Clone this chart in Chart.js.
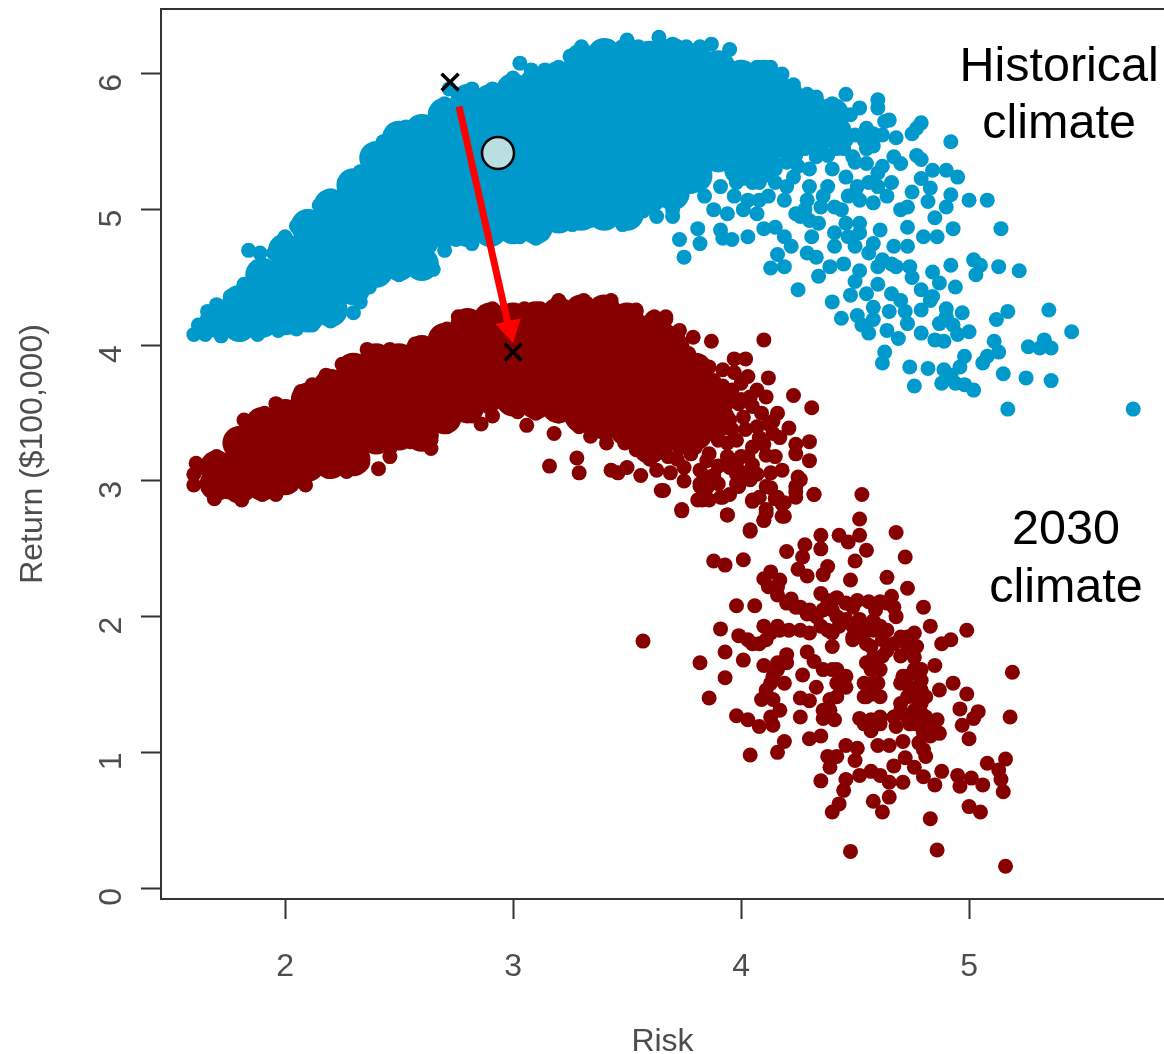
<!DOCTYPE html>
<html><head><meta charset="utf-8">
<style>html,body{margin:0;padding:0;background:#fff}canvas{display:block}</style>
<script src="https://cdn.jsdelivr.net/npm/chart.js@4"></script>
</head><body><canvas id="c" width="1164" height="1054"></canvas>
<script>
const xTicks=[2,3,4,5];
const yTicks=[0,1,2,3,4,5,6];
const xTitle='Risk';
const yTitle='Return ($100,000)';
// solid mass of the historical cloud: [risk,[returns]]
const historicalMass=[[1.7,[4.18]],[1.8,[4.15,4.32]],[1.9,[4.18,4.35,4.52]],[2.0,[4.2,4.37,4.54,4.7]],[2.1,[4.22,4.39,4.56,4.73,4.88]],[2.2,[4.26,4.43,4.6,4.77,4.94,5.03]],[2.3,[4.42,4.59,4.76,4.93,5.1,5.18]],[2.4,[4.55,4.72,4.89,5.06,5.23,5.38]],[2.5,[4.6,4.77,4.94,5.11,5.28,5.45,5.53]],[2.6,[4.6,4.77,4.94,5.11,5.28,5.45,5.58]],[2.7,[4.85,5.02,5.19,5.36,5.53,5.7]],[2.8,[4.85,5.02,5.19,5.36,5.53,5.7,5.8]],[2.9,[4.85,5.02,5.19,5.36,5.53,5.7,5.8]],[3.0,[4.87,5.04,5.21,5.38,5.55,5.72,5.88]],[3.1,[4.87,5.04,5.21,5.38,5.55,5.72,5.92]],[3.2,[4.95,5.12,5.29,5.46,5.63,5.8,5.97]],[3.3,[4.97,5.14,5.31,5.48,5.65,5.82,5.99,6.1]],[3.4,[4.97,5.14,5.31,5.48,5.65,5.82,5.99,6.14]],[3.5,[4.97,5.14,5.31,5.48,5.65,5.82,5.99,6.14]],[3.6,[5.1,5.27,5.44,5.61,5.78,5.95,6.12]],[3.7,[5.12,5.29,5.46,5.63,5.8,5.97,6.14]],[3.8,[5.25,5.42,5.59,5.76,5.93,6.1]],[3.9,[5.4,5.57,5.74,5.91,6.05]],[4.0,[5.3,5.47,5.64,5.81,5.98]],[4.1,[5.35,5.52,5.69,5.86,5.98]],[4.2,[5.5,5.67,5.84]],[4.3,[5.55,5.7]],[4.4,[5.6,5.7]]];
const historicalEdge=[[1.6,4.08],[1.62,4.15],[1.66,4.25],[1.7,4.3],[1.76,4.36],[1.82,4.45],[1.87,4.55],[1.84,4.7],[1.89,4.68],[1.95,4.68],[2.0,4.8],[2.05,4.88],[2.1,4.95],[2.15,5.03],[2.2,5.1],[2.26,5.2],[2.33,5.28],[2.39,5.41],[2.43,5.5],[2.47,5.57],[2.53,5.61],[2.6,5.64],[2.66,5.67],[2.7,5.78],[2.72,5.89],[2.76,5.82],[2.82,5.89],[2.86,5.82],[2.91,5.89],[2.96,5.85],[3.0,5.97],[3.03,6.08],[3.08,6.03],[3.14,6.03],[3.2,6.05],[3.25,6.13],[3.3,6.2],[3.36,6.16],[3.42,6.2],[3.5,6.25],[3.55,6.2],[3.64,6.27],[3.7,6.22],[3.76,6.2],[3.82,6.2],[3.87,6.22],[3.95,6.18],[4.0,6.05],[4.07,6.05],[4.13,6.05],[4.18,6.0],[4.23,5.92],[4.29,5.85],[4.34,5.78],[4.4,5.76],[1.65,4.08],[1.72,4.07],[1.8,4.08],[1.88,4.08],[1.97,4.11],[2.05,4.12],[2.12,4.15],[2.2,4.18],[2.3,4.24],[2.33,4.32],[2.37,4.43],[2.42,4.5],[2.5,4.52],[2.58,4.55],[2.65,4.56],[2.7,4.7],[2.68,4.78],[2.75,4.78],[2.82,4.75],[2.9,4.8],[2.97,4.83],[3.03,4.8],[3.1,4.79],[3.13,4.88],[3.2,4.92],[3.26,4.89],[3.34,4.92],[3.41,4.95],[3.48,4.89],[3.57,4.99],[3.63,4.95],[3.7,5.0]];
const historicalScatter=[[4.92,5.5],[5.08,5.07],[5.0,5.07],[5.14,4.86],[5.13,4.58],[5.22,4.55],[5.35,4.26],[5.45,4.1],[5.17,4.25],[5.12,4.19],[5.26,3.99],[5.33,4.04],[5.36,3.98],[5.31,3.98],[5.36,3.74],[5.25,3.76],[5.15,3.79],[5.17,3.53],[5.72,3.53],[5.11,4.03],[5.13,3.95],[5.08,3.92],[5.06,3.87],[4.98,3.92],[4.96,3.84],[4.89,3.82],[4.88,3.72],[4.94,3.72],[4.98,3.71],[5.02,3.67],[4.92,3.78],[4.82,3.83],[4.74,3.84],[4.76,3.7],[4.63,3.95],[4.62,3.87],[4.85,4.04],[4.89,4.03],[5.0,4.1],[4.95,4.08],[4.97,4.24],[4.93,4.15],[4.9,4.21],[4.87,4.16],[4.9,4.27],[4.84,4.36],[4.79,4.26],[4.73,4.16],[4.79,4.09],[4.69,4.05],[4.64,4.11],[4.56,4.09],[4.58,4.19],[4.51,4.22],[4.44,4.2],[4.4,4.32],[4.25,4.41],[4.13,4.57],[4.19,4.58],[4.16,4.67],[4.22,4.73],[4.19,4.8],[4.15,4.87],[4.1,4.86],[4.29,4.68],[4.33,4.65],[4.31,4.8],[4.34,4.51],[4.39,4.58],[4.45,4.6],[4.52,4.55],[4.6,4.58],[4.55,4.38],[4.58,4.28],[4.48,4.37],[4.68,4.58],[4.74,4.58],[4.79,4.41],[4.7,4.33],[4.83,4.33],[4.62,4.63],[4.67,4.73],[4.73,4.73],[4.8,4.8],[4.86,4.8],[4.93,4.86],[4.61,4.85],[4.58,4.75],[4.52,4.83],[4.5,4.73],[4.41,4.83],[4.41,4.73],[4.84,4.54],[4.92,4.59],[5.02,4.63],[5.05,4.59],[5.03,4.52],[4.94,4.43],[4.87,4.46],[4.26,4.95],[4.3,4.92],[4.24,4.97],[4.19,5.07],[4.08,5.07],[4.07,4.97],[4.01,5.0],[3.94,4.97],[3.91,4.85],[3.96,4.78],[4.03,4.8],[3.92,4.79],[3.82,4.75],[3.75,4.65],[3.73,4.78],[3.81,4.86],[3.7,4.95],[3.78,5.17],[3.84,5.1],[3.88,5.0],[3.91,5.17],[3.97,5.1],[4.03,5.07],[4.41,5.02],[4.44,5.0],[4.52,5.07],[4.51,5.17],[4.52,4.9],[4.58,5.05],[4.6,5.17],[4.64,5.1],[4.7,5.0],[4.73,5.02],[4.73,4.87],[4.75,5.13],[4.82,5.06],[4.83,5.16],[4.79,5.23],[4.9,5.02],[4.92,5.11],[4.85,4.94],[4.84,5.29],[4.9,5.29],[4.95,5.24],[4.77,5.4],[4.79,5.37],[4.67,5.39],[4.7,5.34],[4.68,5.53],[4.77,5.6],[4.75,5.56],[4.79,5.64],[4.65,5.66],[4.6,5.81],[4.6,5.75],[4.46,5.85],[4.52,5.75],[4.58,5.56],[4.55,5.6],[4.58,5.47],[4.54,5.51],[4.63,5.65],[4.6,5.27],[4.55,5.34],[4.49,5.39],[4.46,5.24],[4.33,5.83],[4.4,5.78],[4.35,5.68],[4.43,5.64],[4.38,5.51],[4.46,5.51],[4.33,5.39],[4.3,5.17],[4.38,5.17],[4.23,5.24],[4.29,5.07],[4.35,5.02],[4.08,5.2],[4.15,5.2],[4.3,5.3],[4.4,5.3],[4.24,5.4],[4.48,5.7],[3.98,5.2],[4.12,5.1],[4.45,5.6],[4.45,5.45],[4.5,5.55],[4.38,5.4],[4.42,5.45],[4.5,5.35],[4.55,5.45],[4.62,5.55],[4.35,5.45],[4.28,5.45],[4.2,5.35],[4.25,5.32],[4.1,5.25],[4.05,5.2],[4.2,5.17],[4.15,5.3],[4.5,5.12],[4.47,5.1],[4.56,5.2],[4.62,5.32],[4.66,5.2],[4.36,5.1],[4.28,5.0],[4.34,4.9],[4.46,4.9],[4.47,4.8],[4.56,4.68],[4.66,4.6],[4.5,4.47],[4.6,4.45],[4.66,4.38],[4.75,4.5],[4.72,4.25],[4.65,4.25],[4.53,4.15]];
// solid mass of the 2030 cloud: [risk,[returns]]
const futureMass=[[1.7,[2.98,3.1]],[1.8,[2.96,3.13,3.28]],[1.9,[2.98,3.15,3.32,3.42]],[2.0,[3.02,3.19,3.36,3.48]],[2.1,[3.12,3.29,3.46,3.6]],[2.2,[3.14,3.31,3.48,3.65,3.7]],[2.3,[3.16,3.33,3.5,3.67,3.82]],[2.4,[3.32,3.49,3.66,3.83,3.89]],[2.5,[3.35,3.52,3.69,3.86,3.89]],[2.6,[3.34,3.51,3.68,3.85,3.95]],[2.7,[3.47,3.64,3.81,3.98,4.04]],[2.8,[3.55,3.72,3.89,4.06,4.15]],[2.9,[3.64,3.81,3.98,4.15,4.19]],[3.0,[3.6,3.77,3.94,4.11,4.19]],[3.1,[3.58,3.75,3.92,4.09,4.2]],[3.2,[3.55,3.72,3.89,4.06,4.23]],[3.3,[3.48,3.65,3.82,3.99,4.16,4.25]],[3.4,[3.43,3.6,3.77,3.94,4.11,4.25]],[3.5,[3.38,3.55,3.72,3.89,4.06,4.19]],[3.6,[3.25,3.42,3.59,3.76,3.93,4.1]],[3.7,[3.35,3.52,3.69,3.86,3.98]],[3.8,[3.35,3.52,3.69,3.82]],[3.9,[3.45,3.6]]];
const futureEdge=[[1.61,3.13],[1.7,3.18],[1.78,3.3],[1.82,3.45],[1.91,3.5],[1.96,3.57],[2.06,3.6],[2.07,3.66],[2.12,3.71],[2.18,3.78],[2.25,3.86],[2.36,3.97],[2.46,3.97],[2.57,4.01],[2.71,4.12],[2.76,4.21],[2.91,4.27],[2.84,4.2],[3.05,4.27],[2.98,4.25],[3.12,4.27],[3.2,4.33],[3.31,4.33],[3.43,4.33],[3.54,4.25],[3.61,4.2],[3.67,4.19],[1.6,2.97],[1.6,3.05],[1.69,2.87],[1.81,2.86],[1.96,2.9],[2.09,2.97],[2.06,3.06],[2.19,3.07],[2.27,3.07],[2.34,3.13],[2.41,3.09],[2.46,3.18],[2.46,3.24],[2.55,3.29],[2.64,3.24],[2.71,3.4],[2.82,3.48],[2.86,3.42],[2.91,3.48],[2.89,3.55],[2.95,3.59],[3.02,3.51],[3.06,3.41],[3.1,3.5],[3.2,3.48],[3.18,3.35],[3.29,3.4],[3.34,3.33],[3.41,3.28],[3.49,3.28],[3.54,3.23],[1.75,2.92],[1.9,2.9],[2.03,3.0],[2.55,3.35],[2.64,3.3]];
const futureScatter=[[4.21,3.39],[4.14,3.35],[4.24,3.27],[4.3,3.29],[4.3,3.15],[4.24,3.2],[4.25,3.03],[4.24,2.96],[4.18,3.08],[4.15,3.18],[4.11,3.19],[4.13,3.06],[4.11,2.96],[4.15,2.87],[4.18,2.83],[4.24,2.88],[4.32,2.9],[4.11,2.79],[4.1,2.71],[4.18,2.74],[4.04,2.64],[3.94,2.75],[3.74,2.79],[3.65,2.93],[4.05,2.85],[3.92,2.88],[3.86,2.86],[3.81,2.86],[3.82,2.98],[3.9,2.98],[3.99,2.96],[4.01,3.06],[3.98,3.13],[3.9,3.11],[3.82,3.08],[3.75,3.1],[3.69,3.06],[3.63,3.08],[4.03,3.18],[3.94,3.18],[3.86,3.2],[4.05,3.25],[4.07,3.4],[3.96,3.38],[4.01,3.47],[4.09,3.5],[3.92,3.43],[4.11,3.62],[4.07,3.67],[4.03,3.77],[3.96,3.67],[3.88,3.74],[3.86,3.84],[3.92,3.82],[3.8,3.87],[3.77,3.94],[3.79,4.06],[3.73,4.11],[3.68,4.1],[3.62,4.21],[3.67,4.21],[3.54,4.26],[3.87,4.03],[4.1,4.04],[3.97,3.9],[4.02,3.9],[4.12,3.76],[4.23,3.63],[4.31,3.54],[4.05,3.55],[3.99,3.57],[3.9,3.57],[3.8,3.62],[3.8,3.45],[3.65,3.3],[3.73,3.25],[3.82,3.33],[3.94,3.28],[3.16,3.11],[3.28,3.17],[3.29,3.06],[3.43,3.08],[3.46,3.06],[3.56,3.04],[3.5,3.1],[3.6,3.16],[3.66,2.93],[3.74,2.78],[3.94,2.75],[4.04,2.63],[4.05,2.86],[4.32,2.9],[4.26,3.01],[4.24,2.92],[4.19,2.84],[4.19,2.74],[4.11,2.76],[4.1,2.71],[4.13,2.95],[4.16,2.88],[3.83,2.86],[3.91,2.88],[3.82,2.96],[3.98,2.98],[4.04,3.01],[3.86,3.03],[3.88,3.45],[3.72,3.16],[3.78,3.2],[3.98,3.3],[4.0,3.72],[4.04,3.62],[3.97,3.8],[4.16,3.5],[4.14,3.44],[4.08,3.32],[4.02,3.38],[3.85,3.55],[3.85,3.4],[3.9,3.3],[3.95,3.45],[4.0,3.6],[3.75,3.25],[3.8,3.25],[3.85,3.15],[3.95,3.1],[4.05,3.12],[4.1,3.27],[3.68,3.18],[4.0,3.18],[3.82,3.75],[3.92,3.7],[4.12,3.42],[4.17,3.32],[3.88,3.04],[3.98,3.05],[4.07,3.05],[3.75,3.0],[3.85,2.95],[3.95,2.9],[4.08,2.88]];
const futureLower=[[4.53,2.9],[4.52,2.72],[4.68,2.62],[4.72,2.44],[4.35,2.6],[4.35,2.5],[4.43,2.6],[4.47,2.55],[4.52,2.6],[4.55,2.49],[4.5,2.41],[4.28,2.53],[4.2,2.48],[4.27,2.44],[4.25,2.35],[4.38,2.37],[4.36,2.31],[4.29,2.3],[4.48,2.27],[4.64,2.29],[4.73,2.21],[4.8,2.07],[4.83,1.93],[4.99,1.9],[4.92,1.83],[4.88,1.8],[4.85,1.64],[5.19,1.59],[5.18,1.26],[4.01,2.42],[3.88,2.41],[3.93,2.38],[4.13,2.33],[4.1,2.28],[4.17,2.27],[4.12,2.22],[4.16,2.16],[4.22,2.13],[3.98,2.08],[4.06,2.08],[3.91,1.91],[3.57,1.82],[3.99,1.86],[4.05,1.8],[4.1,1.93],[4.16,1.93],[4.11,1.83],[4.21,1.9],[4.29,2.02],[4.26,2.07],[4.35,2.17],[4.42,2.14],[4.36,2.05],[4.49,2.07],[4.42,2.0],[4.35,1.93],[4.3,1.88],[4.4,1.88],[4.46,1.98],[4.56,2.11],[4.61,2.11],[4.66,2.15],[4.68,2.0],[4.59,2.05],[4.52,1.88],[4.58,1.9],[4.62,1.83],[4.49,1.83],[4.57,1.78],[4.64,1.75],[4.7,1.85],[4.76,1.88],[4.73,1.78],[4.76,1.7],[4.79,1.61],[4.73,1.56],[4.4,1.78],[4.29,1.74],[4.32,1.67],[4.36,1.61],[4.42,1.61],[4.27,1.57],[4.33,1.48],[4.46,1.56],[4.42,1.41],[4.46,1.48],[4.39,1.31],[4.36,1.25],[4.41,1.24],[4.3,1.1],[4.35,1.12],[4.26,1.4],[4.3,1.38],[4.26,1.26],[4.2,1.72],[4.16,1.66],[4.14,1.56],[4.19,1.51],[4.1,1.64],[4.11,1.46],[4.09,1.39],[4.14,1.39],[4.17,1.31],[3.98,1.27],[4.03,1.24],[4.08,1.19],[4.14,1.2],[4.13,1.26],[4.01,1.68],[3.93,1.74],[3.82,1.66],[3.93,1.55],[3.86,1.4],[4.04,0.98],[4.16,1.0],[4.19,1.08],[4.38,0.97],[4.42,0.97],[4.39,0.89],[4.35,0.79],[4.46,0.8],[4.45,0.72],[4.46,1.05],[4.51,1.03],[4.5,0.94],[4.52,0.83],[4.57,0.86],[4.61,0.83],[4.65,0.78],[4.71,0.78],[4.67,0.9],[4.72,0.96],[4.76,0.89],[4.6,1.05],[4.65,1.05],[4.71,1.08],[4.52,1.25],[4.57,1.16],[4.61,1.26],[4.68,1.19],[4.78,1.07],[4.81,0.97],[4.8,0.82],[4.85,0.76],[4.88,0.86],[4.95,0.83],[4.96,0.75],[5.01,0.81],[5.06,0.76],[5.08,0.92],[5.16,0.95],[5.13,0.87],[5.14,0.8],[5.15,0.71],[5.0,0.6],[5.05,0.56],[4.83,0.51],[4.86,0.28],[4.48,0.27],[5.16,0.16],[4.65,0.67],[4.58,0.64],[4.62,0.56],[4.43,0.62],[4.4,0.56],[4.61,1.61],[4.58,1.51],[4.55,1.41],[4.61,1.41],[4.7,1.51],[4.73,1.41],[4.76,1.31],[4.7,1.31],[4.79,1.36],[4.81,1.26],[4.79,1.19],[4.74,1.21],[4.86,1.24],[4.87,1.14],[4.83,1.12],[4.8,1.02],[4.54,1.21],[4.79,1.53],[4.81,1.41],[4.87,1.46],[4.93,1.51],[4.99,1.43],[4.96,1.32],[5.04,1.3],[5.02,1.25],[4.97,1.2],[5.0,1.1],[4.55,1.66],[4.55,1.8],[4.49,1.85],[4.58,1.97],[4.38,1.9],[4.43,1.93],[4.49,1.93],[4.55,1.9],[4.61,1.93],[4.52,1.98],[4.4,2.05],[4.46,2.1],[4.33,2.0],[4.64,1.9],[4.62,1.71],[4.58,1.7],[4.57,1.61],[4.6,1.51],[4.54,1.51],[4.54,1.41],[4.58,1.43],[4.76,1.41],[4.7,1.36],[4.79,1.29],[4.73,1.26],[4.67,1.26],[4.61,1.21],[4.57,1.24],[4.8,1.14],[4.77,1.21],[4.83,1.19],[4.74,1.48],[4.71,1.56],[4.76,1.61],[4.79,1.46],[4.7,1.71],[4.73,1.85],[4.77,1.78],[4.67,1.8],[4.4,1.61],[4.42,1.51],[4.39,1.39],[4.36,1.31],[4.13,1.51],[4.2,1.66],[4.16,1.61],[4.13,1.88],[4.17,1.9],[4.26,1.9],[4.03,1.83],[4.08,1.8],[4.16,2.22],[4.2,2.1],[4.24,2.07],[4.3,2.05],[4.38,2.12],[4.51,2.12],[4.64,2.1],[4.67,2.07]];
const historicalMean=[[2.934,5.418]];
const crosses=[[2.724,5.94],[3.0,3.95]];
const shiftLine=[[2.763,5.76],[2.982,4.128]];
const shiftHead=[[2.986,4.125]];
const notes=[['Historical',5.395,6.045],['climate',5.395,5.625],['2030',5.425,2.635],['climate',5.425,2.205]];

const pts=a=>a.map(p=>({x:p[0],y:p[1]}));
const cols=a=>a.flatMap(c=>c[1].map(y=>({x:c[0],y})));
const BLUE='#0099cc',RED='#870000',AXIS='#333333',TXT='#4d4d4d';
function dots(data,color,r,order){return {data,backgroundColor:color,borderWidth:0,pointRadius:r,pointHoverRadius:r,order,showLine:false};}

const frame={id:'frame',afterDatasetsDraw(ch){
  const {ctx,chartArea:a,scales:{x,y}}=ch;
  ctx.save();
  ctx.strokeStyle=AXIS;ctx.lineWidth=2;
  ctx.beginPath();ctx.moveTo(a.left,a.top);ctx.lineTo(a.right,a.top);ctx.stroke();
  ctx.fillStyle='#000';ctx.font='48.5px "Liberation Sans",Arial,sans-serif';
  ctx.textAlign='center';ctx.textBaseline='middle';
  notes.forEach(n=>ctx.fillText(n[0],x.getPixelForValue(n[1]),y.getPixelForValue(n[2])));
  ctx.restore();
}};

new Chart(document.getElementById('c'),{
  type:'scatter',
  data:{datasets:[
    dots(cols(historicalMass),BLUE,17,9),
    dots(pts(historicalEdge),BLUE,7.5,9),
    dots(pts(historicalScatter),BLUE,7.5,9),
    dots(cols(futureMass),RED,17,8),
    dots(pts(futureEdge),RED,7.5,8),
    dots(pts(futureScatter),RED,7.5,8),
    dots(pts(futureLower),RED,7.5,8),
    {data:pts(shiftLine),showLine:true,borderColor:'#ff0000',borderWidth:7,pointRadius:0,order:4},
    {data:pts(shiftHead),backgroundColor:'#ff0000',borderWidth:0,pointStyle:'triangle',pointRotation:167.4,pointRadius:15,order:3},
    {data:pts(historicalMean),backgroundColor:'#b9dfe0',borderColor:'#000',borderWidth:2.5,pointRadius:16,order:2},
    {data:pts(crosses),pointStyle:'crossRot',borderColor:'#000',backgroundColor:'#000',borderWidth:3.5,pointRadius:12,order:1}
  ]},
  plugins:[frame],
  options:{
    responsive:false,animation:false,
    layout:{autoPadding:false,padding:{top:9,left:0,right:0,bottom:0}},
    plugins:{legend:{display:false},tooltip:{enabled:false}},
    events:[],
    scales:{
      x:{type:'linear',min:1.456,max:5.855,
        afterBuildTicks:s=>{s.ticks=xTicks.map(v=>({value:v}));},
        afterFit:s=>{s.height=155;s.paddingLeft=0;s.paddingRight=0;},
        grid:{display:true,drawOnChartArea:false,drawTicks:true,tickLength:20,tickWidth:2,tickColor:AXIS},
        border:{display:true,color:AXIS,width:2},
        ticks:{color:TXT,font:{size:32,family:'"Liberation Sans",Arial,sans-serif'},padding:29,maxRotation:0,minRotation:0},
        title:{display:true,text:xTitle,color:TXT,font:{size:32,family:'"Liberation Sans",Arial,sans-serif'},padding:{top:35,bottom:-7}}
      },
      y:{type:'linear',min:-0.081,max:6.479,
        afterBuildTicks:s=>{s.ticks=yTicks.map(v=>({value:v}));},
        afterFit:s=>{s.width=161;s.paddingTop=0;s.paddingBottom=0;},
        grid:{display:true,drawOnChartArea:false,drawTicks:true,tickLength:20,tickWidth:2,tickColor:AXIS},
        border:{display:true,color:AXIS,width:2},
        ticks:{color:TXT,font:{size:32,family:'"Liberation Sans",Arial,sans-serif'},padding:29,minRotation:90,maxRotation:90},
        title:{display:true,text:yTitle,color:TXT,font:{size:32,family:'"Liberation Sans",Arial,sans-serif'},padding:{top:14,bottom:0}}
      }
    }
  }
});
</script></body></html>
